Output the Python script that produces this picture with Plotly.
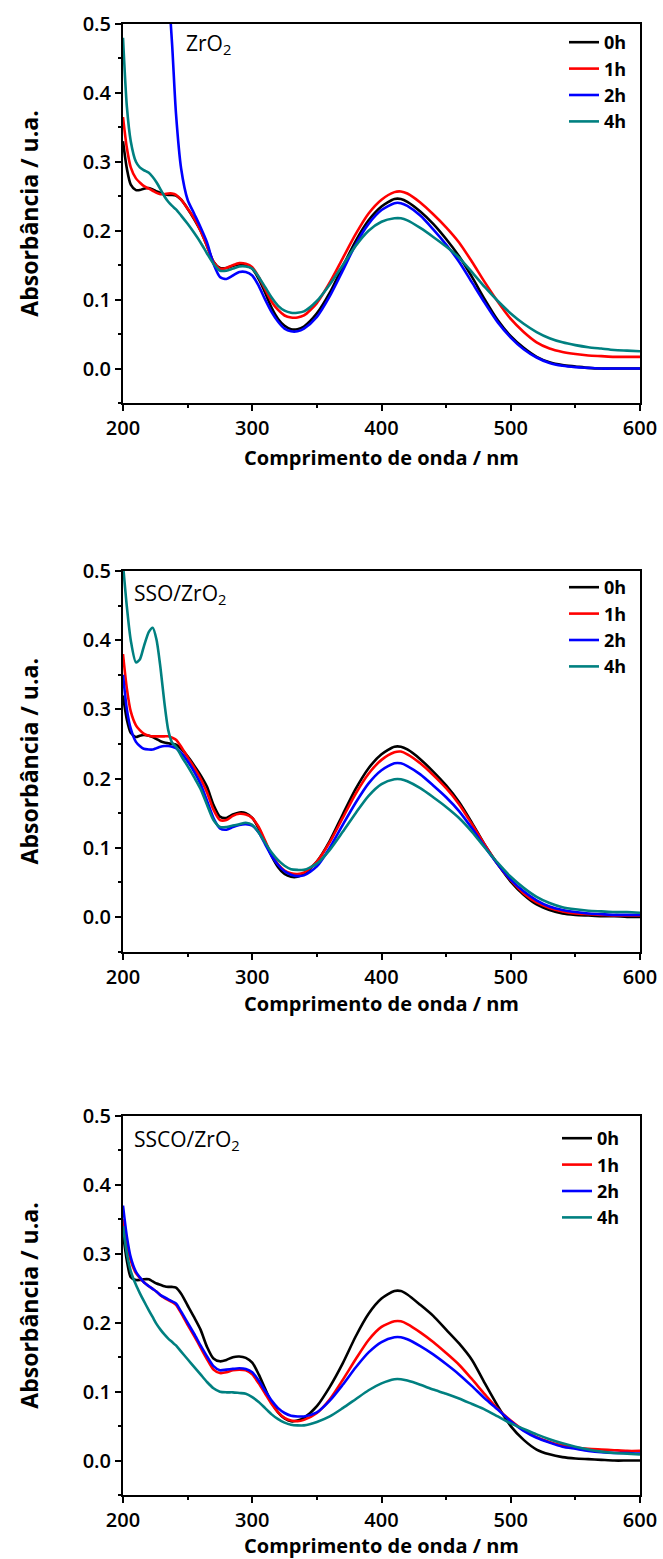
import plotly.graph_objects as go

# ---------------- data ----------------
WL = [200, 203, 206, 210, 213, 216, 220, 223, 226, 229, 232, 235, 238, 241,
      245, 250, 255, 260, 265, 270, 275, 280, 285, 290, 295, 300, 305, 310, 315, 320,
      325, 330, 335, 340, 350, 360, 370, 380, 390, 400, 410, 415,
      420, 430, 440, 450, 460, 470, 480, 490, 500, 510, 520, 530, 540, 550, 560, 570,
      580, 590, 600]

SERIES = ["0h", "1h", "2h", "4h"]
COLORS = ["#000000", "#FF0000", "#0000FF", "#008080"]
PANEL_LABELS = ["ZrO<sub>2</sub>", "SSO/ZrO<sub>2</sub>", "SSCO/ZrO<sub>2</sub>"]

# Panel 1 : ZrO2
ZRO2_0H = [.33, .29, .267, .259, .259, .261, .262, .26, .257, .255, .253, .252, .252, .251,
           .245, .232, .217, .2, .178, .155, .146, .146, .149, .151, .15, .145, .13, .11, .088, .072,
           .062, .057, .057, .061, .08, .11, .148, .185, .215, .235, .246, .246,
           .242, .228, .21, .188, .163, .133, .1, .07, .047, .03, .017, .009, .005, .003, .001, 0,
           0, 0, 0]
ZRO2_1H = [.365, .32, .292, .276, .27, .265, .261, .258, .255, .253, .253, .254, .254, .252,
           .245, .232, .218, .2, .178, .155, .145, .146, .15, .153, .152, .147, .133, .115, .097, .085,
           .077, .074, .074, .077, .095, .125, .16, .195, .225, .245, .256, .257,
           .254, .241, .224, .205, .183, .155, .125, .097, .072, .053, .038, .029, .024, .021, .019, .018,
           .017, .017, .017]
ZRO2_2H = [1.2, 1.1, 1.0, .95, .9, .85, .8, .75, .7, .65, .6, .55, .47, .37,
           .29, .245, .225, .205, .183, .152, .133, .13, .135, .14, .14, .135, .12, .1, .082, .068,
           .058, .054, .054, .058, .075, .105, .142, .18, .21, .23, .24, .24,
           .236, .222, .202, .18, .155, .125, .095, .067, .045, .028, .016, .008, .004, .002, .001, 0,
           0, 0, 0]
ZRO2_4H = [.48, .38, .33, .3, .292, .288, .284, .278, .27, .26, .25, .242, .236, .231,
           .222, .21, .197, .183, .167, .152, .142, .142, .145, .148, .148, .145, .133, .118, .103, .091,
           .084, .081, .081, .083, .098, .122, .15, .178, .2, .213, .218, .218,
           .215, .204, .191, .177, .161, .14, .118, .098, .08, .065, .053, .044, .038, .034, .031, .029,
           .027, .026, .025]

# Panel 2 : SSO/ZrO2
SSO_0H = [.32, .285, .266, .26, .262, .263, .262, .26, .257, .254, .252, .251, .25, .249,
          .243, .232, .219, .205, .188, .162, .145, .143, .148, .151, .15, .143, .128, .108, .088, .072,
          .062, .058, .058, .062, .08, .11, .148, .185, .215, .235, .246, .246,
          .242, .228, .21, .19, .166, .136, .104, .076, .051, .032, .018, .01, .005, .003, .002, .001,
          .001, 0, 0]
SSO_1H = [.38, .33, .297, .277, .27, .265, .262, .261, .261, .261, .261, .261, .259, .256,
          .246, .231, .216, .2, .18, .155, .14, .14, .146, .149, .148, .143, .13, .11, .09, .076,
          .067, .063, .062, .064, .08, .108, .143, .178, .207, .227, .238, .239,
          .235, .222, .205, .186, .163, .134, .104, .076, .053, .034, .021, .013, .008, .005, .004, .003,
          .002, .002, .002]
SSO_2H = [.35, .3, .272, .253, .247, .243, .242, .242, .244, .246, .247, .247, .246, .244,
          .237, .225, .21, .192, .168, .143, .128, .126, .13, .133, .134, .132, .122, .105, .088, .075,
          .066, .061, .059, .06, .073, .1, .133, .165, .193, .212, .222, .222,
          .218, .206, .19, .173, .153, .128, .101, .076, .054, .037, .024, .015, .01, .007, .005, .004,
          .003, .003, .003]
SSO_4H = [.51, .448, .4, .368, .372, .39, .412, .418, .4, .36, .31, .27, .252, .246,
          .233, .218, .202, .185, .162, .14, .13, .13, .132, .134, .136, .133, .122, .107, .093, .082,
          .074, .069, .068, .068, .077, .097, .123, .15, .175, .192, .199, .199,
          .196, .186, .173, .159, .143, .123, .1, .078, .058, .042, .029, .02, .014, .011, .009, .008,
          .007, .007, .006]

# Panel 3 : SSCO/ZrO2
SSCO_0H = [.33, .29, .266, .262, .262, .263, .263, .26, .257, .255, .253, .252, .252, .251,
           .242, .225, .208, .19, .165, .148, .144, .146, .15, .151, .149, .142, .125, .104, .084, .07,
           .061, .057, .058, .062, .079, .107, .141, .18, .213, .235, .246, .246,
           .241, .226, .21, .19, .17, .146, .112, .079, .05, .03, .016, .009, .005, .003, .002, .001,
           0, 0, 0]
SSCO_1H = [.35, .315, .29, .272, .265, .259, .253, .249, .245, .24, .236, .233, .23, .226,
           .214, .197, .181, .164, .147, .132, .127, .128, .131, .132, .131, .125, .112, .097, .082, .07,
           .062, .058, .057, .059, .069, .089, .117, .147, .175, .194, .202, .202,
           .198, .186, .172, .156, .139, .118, .096, .075, .058, .044, .034, .027, .022, .019, .017, .016,
           .015, .014, .014]
SSCO_2H = [.37, .325, .295, .274, .266, .259, .253, .249, .245, .24, .237, .234, .231, .228,
           .216, .2, .184, .167, .151, .137, .131, .132, .133, .134, .133, .128, .116, .101, .087, .076,
           .069, .065, .064, .064, .07, .087, .11, .135, .157, .172, .179, .179,
           .176, .166, .154, .14, .125, .108, .09, .074, .057, .043, .033, .026, .02, .017, .014, .012,
           .011, .011, .01]
SSCO_4H = [.34, .3, .275, .255, .243, .232, .218, .208, .198, .19, .183, .177, .172, .167,
           .158, .147, .136, .125, .114, .105, .1, .099, .099, .098, .097, .092, .085, .076, .067, .06,
           .055, .052, .051, .051, .056, .064, .076, .089, .102, .112, .118, .118,
           .116, .11, .103, .097, .09, .082, .074, .064, .054, .046, .038, .031, .025, .02, .016, .013,
           .011, .01, .009]

PANEL_DATA = [
    [ZRO2_0H, ZRO2_1H, ZRO2_2H, ZRO2_4H],
    [SSO_0H, SSO_1H, SSO_2H, SSO_4H],
    [SSCO_0H, SSCO_1H, SSCO_2H, SSCO_4H],
]

X_TICKS = [200, 300, 400, 500, 600]
Y_TICKS = [0.0, 0.1, 0.2, 0.3, 0.4, 0.5]

# ---------------- layout geometry (pixels) ----------------
W, H = 663, 1559
X_LEFT, X_RIGHT = 123, 640
PANEL_TOP = [24, 571, 1116]
PANEL_BOT = [403, 951.5, 1495]
LEGEND_X = [564, 564, 557]
LEGEND_TOP = [24, 569, 1120]
LABEL_POS = [(184, 44), (132, 594), (132, 1140)]
XTITLE_STANDOFF = [11, 7, 6]

FONT = "Open Sans"

fig = go.Figure()
layout = dict(
    width=W, height=H, margin=dict(l=0, r=0, t=0, b=0, autoexpand=False),
    paper_bgcolor="white", plot_bgcolor="white",
    font=dict(family=FONT, color="black"),
    annotations=[],
)

for p in range(3):
    sfx = "" if p == 0 else str(p + 1)
    xa, ya = "x" + sfx, "y" + sfx
    leg = "legend" + sfx
    for s in range(4):
        fig.add_trace(go.Scatter(
            x=WL, y=PANEL_DATA[p][s], mode="lines", name=SERIES[s],
            line=dict(color=COLORS[s], width=2.6, shape="spline", smoothing=0.7),
            xaxis=xa, yaxis=ya, legend=leg, showlegend=True,
        ))
    dom_y = [1 - PANEL_BOT[p] / H, 1 - PANEL_TOP[p] / H]
    layout["xaxis" + sfx] = dict(
        domain=[X_LEFT / W, X_RIGHT / W], anchor=ya, range=[200, 600], automargin=False,
        tickvals=X_TICKS, ticks="outside", ticklen=6, tickwidth=2, tickcolor="black",
        minor=dict(dtick=50, tick0=200, ticks="outside", ticklen=3, tickwidth=2, tickcolor="black"),
        showline=True, linewidth=2, linecolor="black", mirror=True,
        showgrid=False, zeroline=False,
        tickfont=dict(family=FONT, size=20, weight=600),
        title=dict(text="Comprimento de onda / nm", standoff=XTITLE_STANDOFF[p],
                   font=dict(family=FONT, size=20, weight="bold")),
    )
    layout["yaxis" + sfx] = dict(
        domain=dom_y, anchor=xa, range=[-0.05, 0.5], automargin=False,
        tickvals=Y_TICKS, tickformat=".1f", ticks="outside", ticklen=6, tickwidth=2,
        tickcolor="black",
        minor=dict(dtick=0.05, tick0=0, ticks="outside", ticklen=3, tickwidth=2, tickcolor="black"),
        showline=True, linewidth=2, linecolor="black", mirror=True,
        showgrid=False, zeroline=False,
        tickfont=dict(family=FONT, size=20, weight=600),
        title=dict(text="Absorbância / u.a.", standoff=38,
                   font=dict(family=FONT, size=23, weight="bold")),
    )
    layout[leg] = dict(
        x=LEGEND_X[p] / W, y=1 - LEGEND_TOP[p] / H, xanchor="left", yanchor="top",
        bgcolor="rgba(0,0,0,0)", borderwidth=0,
        font=dict(family=FONT, size=18, weight="bold"),
        itemwidth=30, tracegroupgap=0,
    )
    lx, ly = LABEL_POS[p]
    layout["annotations"].append(dict(
        text=PANEL_LABELS[p], xref="paper", yref="paper",
        x=lx / W, y=1 - ly / H, xanchor="left", yanchor="middle", showarrow=False,
        font=dict(family=FONT, size=21),
    ))

fig.update_layout(**layout)
fig.write_html("out.html", config={"displayModeBar": False},
               post_script="document.body.style.margin='0';")
